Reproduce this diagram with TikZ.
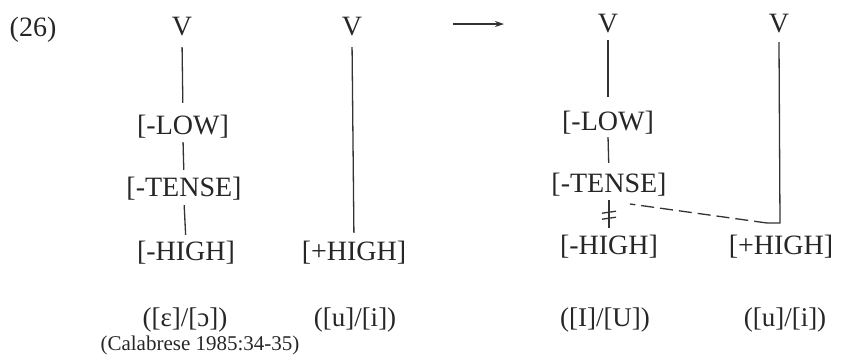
\documentclass[tikz,border=0pt]{standalone}
\usepackage{fontspec}
\setmainfont{Liberation Serif}
\usetikzlibrary{arrows.meta}
\definecolor{ink}{HTML}{262626}
\definecolor{wire}{HTML}{333333}
\begin{document}
\begin{tikzpicture}[x=1pt,y=-1pt,
  lab/.style={inner sep=0pt, font=\fontsize{28}{30}\selectfont, text height=18pt, text depth=5pt, text=ink},
  gloss/.style={inner sep=0pt, font=\fontsize{27}{29}\selectfont, text=ink},
  cite/.style={inner sep=0pt, font=\fontsize{21}{23}\selectfont, text=ink},
  assoc/.style={draw=wire, line width=1.3pt},
  delink/.style={draw=wire, line width=1.3pt, dash pattern=on 13pt off 6pt}
]
\useasboundingbox (0,0) rectangle (841,360);

% left diagram
\node[lab] (n26) at (33,30) {(26)};
\node[lab] (V1) at (182,29) {V};
\node[lab] (V2) at (352,29) {V};
\node[lab] (LLOW) at (183,128) {[-LOW]};
\node[lab] (LTENSE) at (184,190) {[-TENSE]};
\node[lab] (LHIGH) at (186,254) {[-HIGH]};
\node[lab] (LPHIGH) at (354,254) {[+HIGH]};
\node[gloss] (leps) at (185,320) {([ɛ]/[ɔ])};
\node[gloss] (lu) at (355,320) {([u]/[i])};
\node[cite] (cit) at (200,345) {(Calabrese 1985:34-35)};

\draw[assoc, shorten <=6.5pt, shorten >=13.5pt] (V1.south) -- (LLOW.north);
\draw[assoc, shorten <=2.5pt, shorten >=8.5pt] (LLOW.south) -- (LTENSE.north);
\draw[assoc, shorten <=3.5pt, shorten >=7.5pt] (LTENSE.south) -- (LHIGH.north);
\draw[assoc, shorten <=6.5pt, shorten >=9.5pt] (V2.south) -- (LPHIGH.north);

% arrow
\coordinate (a1) at (453,24);
\coordinate (a2) at (504,24);
\draw[wire, line width=1.4pt, -{Stealth[length=9pt,width=6pt]}] (a1) -- (a2);

% right diagram
\node[lab] (V3) at (608,26) {V};
\node[lab] (V4) at (779,26) {V};
\node[lab] (RLOW) at (608,124) {[-LOW]};
\node[lab] (RTENSE) at (609,186) {[-TENSE]};
\node[lab] (RHIGH) at (609,248) {[-HIGH]};
\node[lab] (RPHIGH) at (781,248) {[+HIGH]};
\node[gloss] (rI) at (605,320) {([I]/[U])};
\node[gloss] (ru) at (785,320) {([u]/[i])};

\draw[assoc, shorten <=2.5pt, shorten >=15.5pt] (V3.south) -- (RLOW.north);
\draw[assoc, shorten <=1.5pt, shorten >=11.5pt] (RLOW.south) -- (RTENSE.north);
\draw[assoc, shorten <=2.5pt, shorten >=8.5pt] (RTENSE.south) -- (RHIGH.north);
% delinking marks
\draw[assoc] ([xshift=-7pt,yshift=-15.5pt]RTENSE.south) -- ([xshift=7pt,yshift=-13.5pt]RTENSE.south);
\draw[assoc] ([xshift=-7pt,yshift=-21.5pt]RTENSE.south) -- ([xshift=7pt,yshift=-19.5pt]RTENSE.south);

\coordinate (corner) at (780,223);
\coordinate (hook) at (767,223);
\coordinate (dend) at (630,204);
\draw[assoc, line join=miter] ([yshift=-4.5pt]V4.south) -- (corner) -- (hook);
\draw[delink] (hook) -- (dend);
\end{tikzpicture}
\end{document}
